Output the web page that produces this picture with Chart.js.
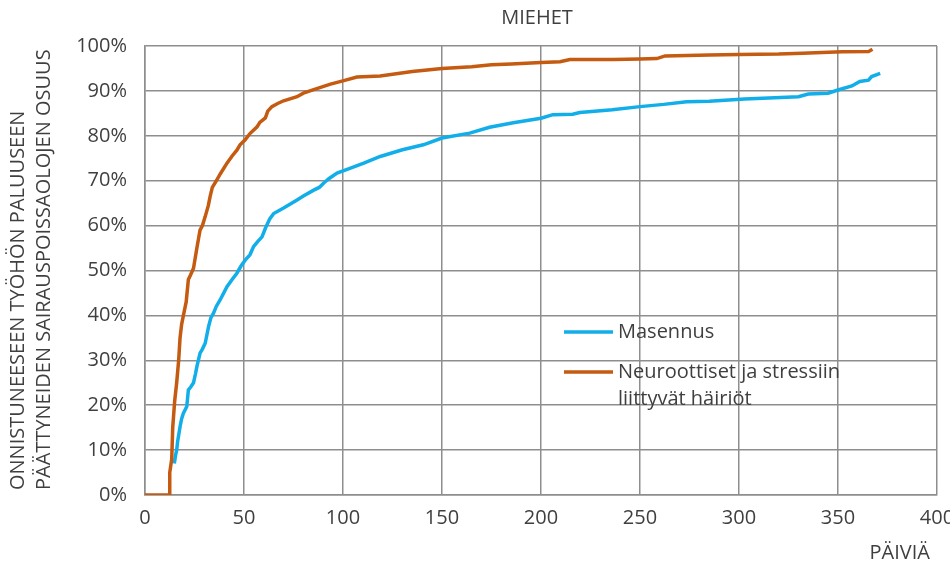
<!DOCTYPE html>
<html>
<head>
<meta charset="utf-8">
<script src="https://cdn.jsdelivr.net/npm/chart.js@4/dist/chart.umd.min.js"></script>
<style>
  html, body { margin: 0; padding: 0; background: #fff; }
  #wrap { width: 950px; height: 564px; position: relative; }
</style>
</head>
<body>
<div id="wrap"><canvas id="canvas"></canvas></div>
<script>
const title = 'MIEHET';
const yTitle = ['ONNISTUNEESEEN TYÖHÖN PALUUSEEN', 'PÄÄTTYNEIDEN SAIRAUSPOISSAOLOJEN OSUUS'];
const xTitle = 'PÄIVIÄ';
const seriesNames = ['Masennus', ['Neuroottiset ja stressiin', 'liittyvät häiriöt']];

// Masennus (days, % returned)
const masDays = [14.8, 15.5, 16, 16.5, 17.7, 18.5, 19.4, 21.1, 21.9, 23, 24.5, 25.5, 26.2, 27.8, 29, 30.4,
  32.1, 33.3, 34.6, 36, 38, 41.4, 44, 46.4, 48.5, 50.6, 53, 54.8, 57, 59.1, 60.8, 63, 65, 70, 76.8, 80,
  85.2, 88, 90.3, 93, 97, 103.8, 110.5, 118.8, 130, 140.6, 150, 164, 174, 186, 200, 206, 216, 219.6,
  236, 250, 262, 273.5, 285, 302.8, 315, 330, 335, 345, 350, 357, 361, 365.4, 367, 371.3];
const masPct = [7, 9, 10, 12, 15.2, 17, 18.2, 19.7, 23.4, 24, 25, 27, 28.6, 31.6, 32.5, 33.8,
  37.5, 39.5, 40.5, 42, 43.5, 46.4, 48, 49.4, 51, 52.3, 53.5, 55.3, 56.5, 57.5, 59.4, 61.5, 62.7, 63.9, 65.7, 66.6,
  67.9, 68.5, 69.5, 70.5, 71.7, 72.8, 73.9, 75.4, 76.9, 78.0, 79.5, 80.6, 81.9, 82.9, 83.9, 84.7, 84.8, 85.2,
  85.8, 86.5, 87.0, 87.6, 87.7, 88.2, 88.4, 88.7, 89.3, 89.5, 90.2, 91.1, 92.1, 92.4, 93.2, 93.9];

// Neuroottiset ja stressiin liittyvät häiriöt
const neuroDays = [0, 12.3, 12.5, 13.5, 14, 15, 16, 17, 17.7, 18.5, 19.4, 20.8, 21.9, 23, 24.5, 26.2, 27,
  27.8, 29, 30.4, 32, 32.9, 34, 36.3, 38, 41.4, 44, 46.4, 48, 50.6, 53, 56.6, 58, 60.8, 62, 64.1, 67, 70,
  76.8, 80, 85.2, 93.7, 100.4, 107, 118.8, 135, 150, 165, 175, 185, 200, 209.6, 214.6, 236.5, 250, 258.5,
  262.7, 285, 300, 320, 332, 352, 365.4, 367.4];
const neuroPct = [0, 0, 5, 8, 15, 21, 25, 30, 35, 38, 40, 43, 48, 49, 50.5, 55, 57,
  59, 60, 62, 64.5, 66.5, 68.5, 70.2, 71.5, 73.9, 75.5, 76.8, 78, 79.1, 80.5, 82, 83, 84, 85.5, 86.5, 87.2, 87.8,
  88.7, 89.5, 90.3, 91.5, 92.3, 93.1, 93.3, 94.3, 95.0, 95.4, 95.8, 96.0, 96.3, 96.5, 97.0, 97.0, 97.1, 97.2,
  97.8, 98.0, 98.1, 98.2, 98.4, 98.7, 98.75, 99.3];

const xTicks = [0, 50, 100, 150, 200, 250, 300, 350, 400];
const yTicks = [0, 10, 20, 30, 40, 50, 60, 70, 80, 90, 100];

const blue = '#12aeea';
const orange = '#c55a11';
const textColor = '#3f3f3f';
const gridColor = '#8e8e8e';
const font = "'Open Sans', 'Noto Sans', sans-serif";

const toPoints = (xs, ys) => xs.map((x, i) => ({ x: x, y: ys[i] }));

const decorations = {
  id: 'decorations',
  afterDraw(chart) {
    const c = chart.ctx;
    const area = chart.chartArea;
    c.save();
    c.fillStyle = textColor;
    c.font = '20px ' + font;

    // title
    c.textAlign = 'center';
    c.textBaseline = 'middle';
    c.fillText(title, (area.left + area.right) / 2 - 4, 18);

    // x title
    c.textAlign = 'right';
    c.textBaseline = 'alphabetic';
    c.fillText(xTitle, 930, 559);

    // y title (two lines, rotated)
    c.save();
    c.translate(0, 490);
    c.rotate(-Math.PI / 2);
    c.textAlign = 'left';
    c.textBaseline = 'middle';
    c.fillText(yTitle[0], 0, 18);
    c.fillText(yTitle[1], 0, 44);
    c.restore();

    // legend
    const items = [
      { color: blue, lines: [seriesNames[0]], y: 332 },
      { color: orange, lines: seriesNames[1], y: 372 }
    ];
    items.forEach(it => {
      c.strokeStyle = it.color;
      c.lineWidth = 3.5;
      c.beginPath();
      c.moveTo(564, it.y);
      c.lineTo(613, it.y);
      c.stroke();
      c.textAlign = 'left';
      c.textBaseline = 'middle';
      it.lines.forEach((t, i) => c.fillText(t, 618, it.y + i * 27));
    });
    c.restore();
  }
};

new Chart(document.getElementById('canvas'), {
  type: 'line',
  data: {
    datasets: [
      {
        label: 'Masennus',
        data: toPoints(masDays, masPct),
        borderColor: blue,
        borderWidth: 3.5,
        pointRadius: 0,
        tension: 0,
        order: 2
      },
      {
        label: 'Neuroottiset ja stressiin liittyvät häiriöt',
        data: toPoints(neuroDays, neuroPct),
        borderColor: orange,
        borderWidth: 3.5,
        pointRadius: 0,
        tension: 0,
        order: 1
      }
    ]
  },
  options: {
    responsive: true,
    maintainAspectRatio: false,
    animation: false,
    layout: { padding: { top: 46, right: 13, bottom: 0, left: 0 } },
    plugins: {
      legend: { display: false },
      tooltip: { enabled: false },
      title: { display: false }
    },
    scales: {
      x: {
        type: 'linear',
        min: 0,
        max: 400,
        afterBuildTicks: s => { s.ticks = xTicks.map(v => ({ value: v })); },
        afterFit: s => { s.height = 69; s.paddingRight = 13; s.paddingLeft = 0; },
        grid: { color: gridColor, lineWidth: 1.5, drawTicks: false },
        border: { color: gridColor, width: 1.5 },
        ticks: { color: textColor, font: { size: 20, family: font }, padding: 11, maxRotation: 0 }
      },
      y: {
        min: 0,
        max: 100,
        afterBuildTicks: s => { s.ticks = yTicks.map(v => ({ value: v })); },
        afterFit: s => { s.width = 145; s.paddingTop = 0; s.paddingBottom = 0; },
        grid: { color: gridColor, lineWidth: 1.5, drawTicks: false },
        border: { color: gridColor, width: 1.5 },
        ticks: {
          color: textColor,
          font: { size: 20, family: font },
          padding: 18,
          callback: v => v + '%'
        }
      }
    }
  },
  plugins: [decorations]
});
</script>
</body>
</html>
